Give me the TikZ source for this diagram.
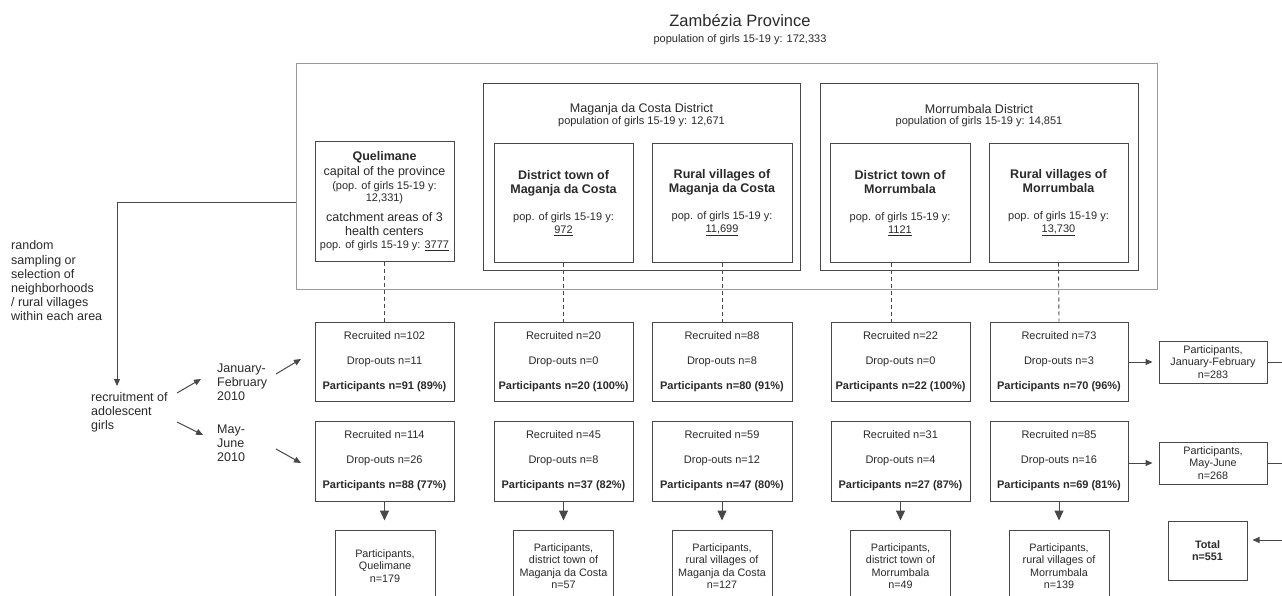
\documentclass[tikz,border=0pt]{standalone}
\usepackage{fontspec}
\setmainfont{Liberation Sans}
\usetikzlibrary{arrows.meta,calc}
\definecolor{ink}{HTML}{2A2A2A}
\definecolor{linec}{HTML}{484848}
\definecolor{framec}{HTML}{9A9A9A}
\newcommand\recbox[3]{Recruited n=#1\\Drop-outs n=#2\\\textbf{Participants n=#3}}
\newcommand\upbox[3]{{\fontsize{12.5}{14}\selectfont\bfseries #1}\\[1pt]{\fontsize{12.5}{14}\selectfont\bfseries #2}\\[14pt]pop. of girls 15-19 y:\\\underline{#3}}
\begin{document}
\begin{tikzpicture}[x=1pt,y=-1pt,
  every node/.style={text=ink},
  box/.style={draw=linec,line width=1pt,inner sep=0pt,align=center,font=\fontsize{11}{13}\selectfont},
  frm/.style={draw=framec,line width=1pt,inner sep=0pt},
  dfrm/.style={draw=linec,line width=1pt,inner sep=0pt},
  upb/.style={box,minimum width=139pt,minimum height=118pt},
  recb/.style={box,minimum width=139pt,font=\fontsize{11}{25}\selectfont},
  botb/.style={box,minimum width=100pt,minimum height=72pt,font=\fontsize{10.8}{12.5}\selectfont},
  sideb/.style={box,minimum width=108pt,minimum height=42pt,font=\fontsize{10.8}{12.5}\selectfont},
  conn/.style={draw=linec,line width=1pt},
  arr/.style={conn,-{Triangle[length=7pt,width=6pt]}},
  bigarr/.style={conn,-{Triangle[length=10pt,width=9pt]}},
  dsh/.style={draw=linec,line width=0.9pt,dash pattern=on 4pt off 3pt},
  lbl/.style={align=left,inner sep=0pt,font=\fontsize{12.5}{14.2}\selectfont},
]
\fill[white] (0,0) rectangle (1282,596);
\clip (0,0) rectangle (1282,596);

% province
\node[font=\fontsize{16.5}{18}\selectfont] (pt) at (740,21) {Zambézia Province};
\node[font=\fontsize{11}{13}\selectfont] (ps) at (740,40) {population of girls 15-19 y: 172,333};
\node[frm,minimum width=861pt,minimum height=225pt] (prov) at (726.5,176.5) {};

% districts
\node[dfrm,minimum width=317pt,minimum height=186pt] (mag) at (641.5,177) {};
\node[font=\fontsize{12.5}{14}\selectfont] (magt) at (641.5,109) {Maganja da Costa District};
\node[font=\fontsize{11}{13}\selectfont] (mags) at (641.5,122) {population of girls 15-19 y: 12,671};
\node[dfrm,minimum width=318pt,minimum height=186pt] (mor) at (979,177) {};
\node[font=\fontsize{12.5}{14}\selectfont] (mort) at (979,109) {Morrumbala District};
\node[font=\fontsize{11}{13}\selectfont] (mors) at (979,122) {population of girls 15-19 y: 14,851};

% upper boxes
\node[box,minimum width=139pt,minimum height=119pt] (q) at (384.5,201.5)
 {{\fontsize{12.5}{14}\selectfont\bfseries Quelimane}\\[2pt]
  {\fontsize{12.5}{14}\selectfont capital of the province}\\[1pt]
  (pop. of girls 15-19 y:\\[-1pt]
  12,331)\\[7pt]
  {\fontsize{12.5}{14}\selectfont catchment areas of 3}\\[1pt]
  {\fontsize{12.5}{14}\selectfont health centers}\\
  pop. of girls 15-19 y: \underline{3777}};
\node[upb] (mt) at (563.5,203) {\upbox{District town of}{Maganja da Costa}{972}};
\node[upb,minimum width=140pt] (mr) at (722,203) {\upbox{Rural villages of}{Maganja da Costa}{11,699}};
\node[upb,minimum width=140pt] (ot) at (900,203) {\upbox{District town of}{Morrumbala}{1121}};
\node[upb] (orr) at (1058.5,203) {\upbox{Rural villages of}{Morrumbala}{13,730}};

% row 1
\node[recb,minimum height=79pt] (q1) at (384.5,361.5) {\recbox{102}{11}{91 (89\%)}};
\node[recb,minimum height=79pt] (mt1) at (563.5,361.5) {\recbox{20}{0}{20 (100\%)}};
\node[recb,minimum height=79pt,minimum width=140pt] (mr1) at (722,361.5) {\recbox{88}{8}{80 (91\%)}};
\node[recb,minimum height=79pt] (ot1) at (900.5,361.5) {\recbox{22}{0}{22 (100\%)}};
\node[recb,minimum height=79pt,minimum width=138pt] (orr1) at (1059,361.5) {\recbox{73}{3}{70 (96\%)}};
% row 2
\node[recb,minimum height=80pt] (q2) at (384.5,461) {\recbox{114}{26}{88 (77\%)}};
\node[recb,minimum height=80pt] (mt2) at (563.5,461) {\recbox{45}{8}{37 (82\%)}};
\node[recb,minimum height=80pt,minimum width=140pt] (mr2) at (722,461) {\recbox{59}{12}{47 (80\%)}};
\node[recb,minimum height=80pt] (ot2) at (900.5,461) {\recbox{31}{4}{27 (87\%)}};
\node[recb,minimum height=80pt,minimum width=138pt] (orr2) at (1059,461) {\recbox{85}{16}{69 (81\%)}};

% bottom boxes
\node[botb] (qb) at (385,566) {Participants,\\Quelimane\\n=179};
\node[botb] (mtb) at (563.5,566) {Participants,\\district town of\\Maganja da Costa\\n=57};
\node[botb] (mrb) at (722,566) {Participants,\\rural villages of\\Maganja da Costa\\n=127};
\node[botb] (otb) at (900.5,566) {Participants,\\district town of\\Morrumbala\\n=49};
\node[botb] (orrb) at (1059,566) {Participants,\\rural villages of\\Morrumbala\\n=139};

% side boxes
\node[sideb] (jan) at (1213,362) {Participants,\\January-February\\n=283};
\node[sideb] (may) at (1213,463) {Participants,\\May-June\\n=268};
\node[box,minimum width=79pt,minimum height=59pt,font=\fontsize{10.8}{12.5}\selectfont\bfseries] (tot) at (1207.5,550.5) {Total\\n=551};

% left labels
\node[lbl,anchor=west] (rs) at (11,281) {random\\sampling or\\selection of\\neighborhoods\\/ rural villages\\within each area};
\node[lbl,anchor=west] (rec) at (91,412) {recruitment of\\adolescent\\girls};
\node[lbl,anchor=west] (jf) at (217,382) {January-\\February\\2010};
\node[lbl,anchor=west] (mj) at (217,443) {May-\\June\\2010};

% coordinates
\coordinate (ly) at (0,203);
\coordinate (rtop) at (117,386);
\coordinate (a1s) at (177,393); \coordinate (a1e) at (201,379);
\coordinate (a2s) at (177,422); \coordinate (a2e) at (203,435);
\coordinate (a3s) at (276,374); \coordinate (a3e) at (301,359);
\coordinate (a4s) at (276,449); \coordinate (a4e) at (301,463);
\coordinate (e1) at (1292,362);
\coordinate (e2) at (1292,463);
\coordinate (e3) at (1292,540);

% connectors
\draw[arr] (prov.west |- ly) -| (rtop);
\draw[arr] (a1s) -- (a1e);
\draw[arr] (a2s) -- (a2e);
\draw[arr] (a3s) -- (a3e);
\draw[arr] (a4s) -- (a4e);

\draw[dsh] (q.south) -- (q1.north);
\draw[dsh] (mt.south) -- (mt1.north);
\draw[dsh] (mr.south) -- (mr1.north);
\draw[dsh] ([xshift=-9pt]ot.south) -- ([xshift=-9.5pt]ot1.north);
\draw[dsh] (orr.south) -- (orr1.north);

\draw[bigarr,shorten >=9pt] (q2.south) -- (q2.south |- qb.north);
\draw[bigarr,shorten >=9pt] (mt2.south) -- (mtb.north);
\draw[bigarr,shorten >=9pt] (mr2.south) -- (mrb.north);
\draw[bigarr,shorten >=9pt] (ot2.south) -- (otb.north);
\draw[bigarr,shorten >=9pt] (orr2.south) -- (orrb.north);

\draw[arr,shorten >=6pt] (orr1.east |- jan.west) -- (jan.west);
\draw[arr,shorten >=6pt] (orr2.east |- may.west) -- (may.west);
\draw[conn] (jan.east) -- (e1);
\draw[conn] (may.east) -- (e2);
\draw[arr,shorten >=5pt] (e3) -- (tot.east |- e3);
\end{tikzpicture}
\end{document}
